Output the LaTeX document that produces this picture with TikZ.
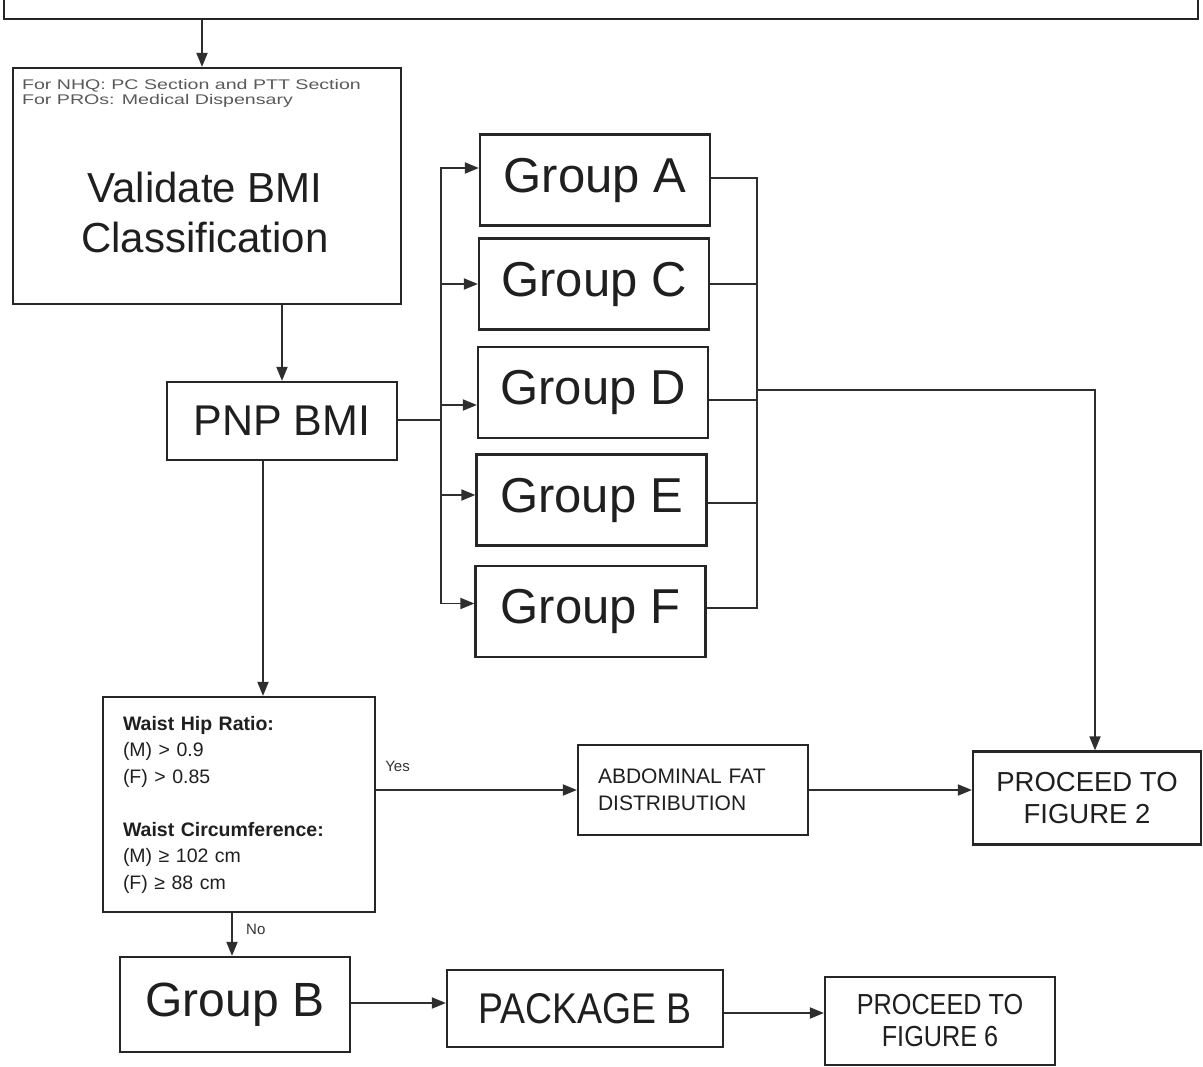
\documentclass[tikz,border=0pt]{standalone}
\usepackage{fontspec}
\setmainfont{Liberation Sans}
\newfontfamily\widefont[FakeStretch=1.4]{Liberation Sans}
\newfontfamily\narrowfont[FakeStretch=0.87]{Liberation Sans}
\usetikzlibrary{arrows.meta,calc}
\begin{document}
\begin{tikzpicture}[x=1pt,y=-1pt,
  box/.style={draw=black!85, line width=2.2pt, inner sep=0pt, text=black!88},
  grp/.style={box, minimum width=230pt, minimum height=91pt, font=\fontsize{49}{55}\selectfont},
  conn/.style={draw=black!82, line width=1.8pt},
  arr/.style={conn, -{Triangle[length=14pt,width=11pt]}},
  lbl/.style={inner sep=0pt, font=\fontsize{15}{17}\selectfont, text=black!80}
]
\useasboundingbox (0,0) rectangle (1203,1067);
\clip (0,0) rectangle (1203,1067);

% previous (cut-off) box
\node[box, minimum width=1194pt, minimum height=100pt, anchor=south] (prev) at (601,20) {};

% validate
\node[box, minimum width=388pt, minimum height=236pt] (val) at (207,186) {};
\node[anchor=north west, inner sep=0pt, align=left, text=black!65,
      font=\widefont\fontsize{14}{15.5}\selectfont] (valnote) at ($(val.north west)+(10,12)$)
      {For NHQ: PC Section and PTT Section\\For PROs: Medical Dispensary};
\node[inner sep=0pt, align=center, text=black!88, font=\fontsize{42}{50}\selectfont] (valtxt) at (205,212)
      {Validate BMI\\Classification};

% PNP BMI
\node[box, minimum width=230pt, minimum height=78pt, font=\fontsize{43}{50}\selectfont] (pnp) at (282,421) {PNP BMI};

% groups
\node[grp] (gA) at (595,180) {Group A};
\node[grp] (gC) at (594,284) {Group C};
\node[grp] (gD) at (593,392.5) {Group D};
\node[grp] (gE) at (591.5,500) {Group E};
\node[grp] (gF) at (590.5,611.5) {Group F};

% waist box
\node[box, minimum width=272pt, minimum height=215pt, text width=232pt, align=left,
      font=\fontsize{19.5}{26.5}\selectfont] (waist) at (239,804.5)
  {\textbf{Waist Hip Ratio:}\\(M) > 0.9\\(F) > 0.85\\[26.5pt]\textbf{Waist Circumference:}\\(M) ≥ 102 cm\\(F) ≥ 88 cm};

% abdominal
\node[box, minimum width=230pt, minimum height=90pt, text width=190pt, align=left,
      font=\fontsize{21}{27}\selectfont] (abd) at (693,790) {ABDOMINAL FAT\\DISTRIBUTION};

% proceed to figure 2
\node[box, minimum width=228pt, minimum height=93pt, align=center,
      font=\fontsize{27.5}{32}\selectfont] (fig2) at (1087,798) {PROCEED TO\\FIGURE 2};

% bottom row
\node[box, minimum width=230pt, minimum height=95pt, font=\fontsize{48}{54}\selectfont] (grpB) at (235,1004.5) {Group B};
\node[box, minimum width=276pt, minimum height=77pt, font=\narrowfont\fontsize{43}{50}\selectfont] (pkgB) at (585,1008.5) {PACKAGE B};
\node[box, minimum width=230pt, minimum height=88pt, align=center,
      font=\narrowfont\fontsize{29}{32}\selectfont] (fig6) at (940,1021) {PROCEED TO\\FIGURE 6};

% connectors top part
\draw[arr] (prev.south -| 202,0) -- (val.north -| 202,0);
\draw[arr] (val.south -| pnp.north) -- (pnp.north);

% left trunk
\coordinate (tl) at (441,420);
\draw[conn] (pnp.east |- tl) -- (tl);
\draw[arr] (tl) |- ([yshift=12pt]gA.west);
\draw[arr] (tl) |- (gC.west);
\draw[arr] (tl) |- ([yshift=-12.5pt]gD.west);
\draw[arr] (tl) |- ([yshift=5pt]gE.west);
\draw[arr] (tl) |- ([yshift=8pt]gF.west);

% right trunk
\coordinate (rt) at (757,390);
\draw[conn] ([yshift=2pt]gA.east) -| (rt);
\draw[conn] (gC.east) -| (rt);
\draw[conn] ([yshift=-7.5pt]gD.east) -| (rt);
\draw[conn] ([yshift=-3pt]gE.east) -| (rt);
\draw[conn] ([yshift=3.5pt]gF.east) -| (rt);
\draw[arr] (rt) -| ([xshift=8pt]fig2.north);

% PNP -> waist
\draw[arr] ([xshift=-19pt]pnp.south) -- ([xshift=-19pt]pnp.south |- waist.north);

% yes
\draw[arr] (waist.east |- abd.west) -- (abd.west);
\node[lbl, anchor=south west] (yes) at ($(waist.east |- abd.west)+(9,-18)$) {Yes};
\draw[arr] (abd.east) -- (abd.east -| fig2.west);

% no
\draw[arr] ([xshift=-7pt]waist.south) -- ([xshift=-7pt]waist.south |- grpB.north);
\node[lbl, anchor=west] (no) at ($([xshift=-7pt]waist.south)+(14,16)$) {No};

% bottom arrows
\draw[arr] (grpB.east |- 0,1003) -- (pkgB.west |- 0,1003);
\draw[arr] (pkgB.east |- 0,1013) -- (fig6.west |- 0,1013);
\end{tikzpicture}
\end{document}
